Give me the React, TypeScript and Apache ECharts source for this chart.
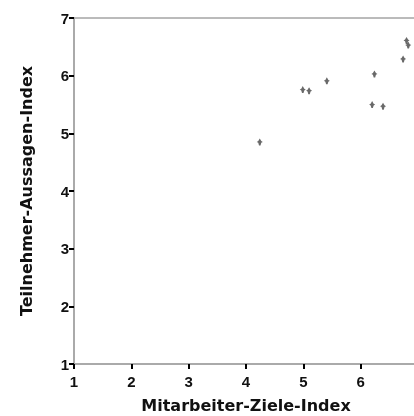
import React, { useEffect, useRef } from "react";
import * as echarts from "echarts";

const xValues = [6.80, 6.83, 6.74, 6.24, 5.41, 4.99, 5.10, 6.20, 6.39, 4.24];
const yValues = [6.61, 6.53, 6.29, 6.03, 5.91, 5.76, 5.74, 5.50, 5.47, 4.85];
const xName = "Mitarbeiter-Ziele-Index";
const yName = "Teilnehmer-Aussagen-Index";

export default function App() {
  const ref = useRef<HTMLDivElement>(null);
  useEffect(() => {
    document.body.style.margin = "0";
    document.body.style.overflow = "hidden";
    const chart = echarts.init(ref.current!, null, { renderer: "svg", width: 414, height: 416 });
    const data = xValues.map((x, i) => [x, yValues[i]]);
    const font = "Liberation Sans, Arial, sans-serif";
    const titleFont = "DejaVu Sans, sans-serif";
    chart.setOption({
      animation: false,
      grid: {
        left: 74,
        top: 18,
        width: 344,
        height: 346,
        show: true,
        borderColor: "#777",
        borderWidth: 1,
        containLabel: false,
        outerBoundsMode: "none",
      },
      xAxis: {
        type: "value",
        min: 1,
        max: 7,
        interval: 1,
        name: xName,
        nameLocation: "middle",
        nameGap: 33,
        nameTextStyle: { fontFamily: titleFont, fontWeight: "bold", fontSize: 16, lineHeight: 16, color: "#111" },
        axisLine: { show: true, lineStyle: { color: "#aaa", width: 2 } },
        axisTick: { show: true, length: 5, lineStyle: { color: "#000", width: 2 } },
        axisLabel: {
          fontFamily: font,
          fontWeight: "bold",
          fontSize: 15,
          color: "#111",
          margin: 10,
          formatter: (v: number) => (v >= 7 ? "" : String(v)),
        },
        splitLine: { show: false },
      },
      yAxis: {
        type: "value",
        min: 1,
        max: 7,
        interval: 1,
        name: yName,
        nameLocation: "middle",
        nameGap: 40,
        nameRotate: 90,
        nameTextStyle: { fontFamily: titleFont, fontWeight: "bold", fontSize: 16, color: "#111" },
        axisLine: { show: true, lineStyle: { color: "#aaa", width: 2 } },
        axisTick: { show: true, length: 5, lineStyle: { color: "#000", width: 2 } },
        axisLabel: { fontFamily: font, fontWeight: "bold", fontSize: 15, color: "#111", margin: 5 },
        splitLine: { show: false },
      },
      series: [
        {
          type: "scatter",
          data,
          symbol: "path://M4,0 L6,3 L8,4 L6,5 L5,8 L3,8 L2,5 L0,4 L2,3 Z",
          symbolSize: [6, 7],
          itemStyle: { color: "#444" },
        },
      ],
    });
    return () => chart.dispose();
  }, []);
  return <div ref={ref} style={{ position: "fixed", left: 0, top: 0, width: 414, height: 416 }} />;
}
